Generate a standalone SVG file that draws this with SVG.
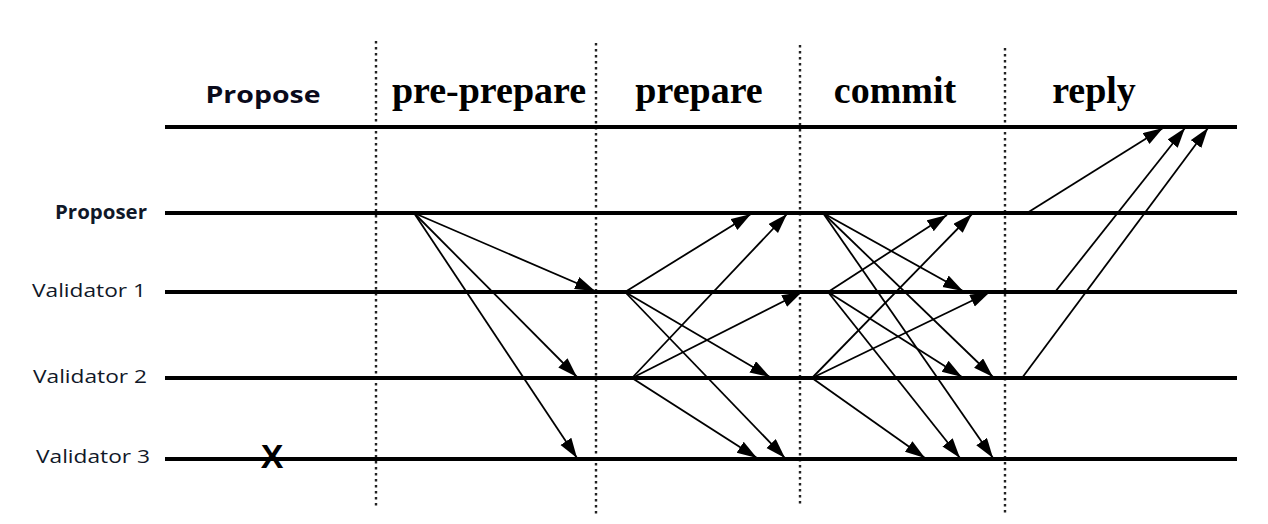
<svg xmlns="http://www.w3.org/2000/svg" width="1268" height="524" viewBox="0 0 1268 524">
<style>
.lane{stroke:#000;stroke-width:4;fill:none}
.div{stroke:#222;stroke-width:2.4;stroke-dasharray:2.4 3.6;fill:none}
.msg{stroke:#000;stroke-width:1.8;fill:none;marker-end:url(#ah)}
.hdr{font-family:"Liberation Serif",serif;font-weight:bold;font-size:38px;fill:#000;text-anchor:middle}
.prop{font-family:"Open Sans","Liberation Sans",sans-serif;font-weight:bold;font-size:23px;fill:#0a0a1a;text-anchor:middle}
.lbl{font-family:"Open Sans","Liberation Sans",sans-serif;font-size:19px;fill:#101828;text-anchor:end}
</style>
<defs>
<marker id="ah" markerUnits="userSpaceOnUse" markerWidth="22" markerHeight="14" refX="20" refY="6.5" orient="auto">
<path d="M0,0 L20,6.5 L0,13 Z" fill="#000"/>
</marker>
</defs>
<rect width="1268" height="524" fill="#fff"/>
<g id="dividers">
<line class="div" x1="376" y1="41" x2="376" y2="507"/>
<line class="div" x1="596" y1="43" x2="596" y2="515"/>
<line class="div" x1="800" y1="45" x2="800" y2="507"/>
<line class="div" x1="1005" y1="48" x2="1005" y2="515"/>
</g>
<g id="headers">
<text class="prop" x="263" y="103" textLength="115" lengthAdjust="spacingAndGlyphs">Propose</text>
<text class="hdr" x="489" y="103">pre-prepare</text>
<text class="hdr" x="699" y="103">prepare</text>
<text class="hdr" x="895" y="103">commit</text>
<text class="hdr" x="1094" y="103">reply</text>
</g>
<g id="client">
<line class="lane" x1="165" y1="127" x2="1237" y2="127"/>
</g>
<g id="proposer">
<text class="lbl" x="147" y="219" font-weight="bold" font-size="17" textLength="92" lengthAdjust="spacingAndGlyphs">Proposer</text>
<line class="lane" x1="165" y1="213" x2="1237" y2="213"/>
</g>
<g id="validator1">
<text class="lbl" x="146" y="297" textLength="114" lengthAdjust="spacingAndGlyphs">Validator 1</text>
<line class="lane" x1="165" y1="292" x2="1237" y2="292"/>
</g>
<g id="validator2">
<text class="lbl" x="147" y="383" textLength="114" lengthAdjust="spacingAndGlyphs">Validator 2</text>
<line class="lane" x1="165" y1="378" x2="1237" y2="378"/>
</g>
<g id="validator3">
<text class="lbl" x="150" y="463" textLength="114" lengthAdjust="spacingAndGlyphs">Validator 3</text>
<line class="lane" x1="165" y1="459" x2="1237" y2="459"/>
<text x="272" y="468" font-family="'Liberation Sans',sans-serif" font-weight="bold" font-size="34" text-anchor="middle" fill="#000">X</text>
</g>
<g id="connectors">
<!-- pre-prepare -->
<line class="msg" x1="414" y1="213" x2="595" y2="291"/>
<line class="msg" x1="414" y1="213" x2="577" y2="377"/>
<line class="msg" x1="414" y1="213" x2="577" y2="458"/>
<!-- prepare -->
<line class="msg" x1="625" y1="292" x2="751" y2="214"/>
<line class="msg" x1="625" y1="292" x2="770" y2="377"/>
<line class="msg" x1="625" y1="292" x2="785" y2="458"/>
<line class="msg" x1="632" y1="378" x2="787" y2="214"/>
<line class="msg" x1="632" y1="378" x2="802" y2="292"/>
<line class="msg" x1="632" y1="378" x2="757" y2="458"/>
<!-- commit -->
<line class="msg" x1="823" y1="213" x2="963" y2="291"/>
<line class="msg" x1="823" y1="213" x2="993" y2="377"/>
<line class="msg" x1="823" y1="213" x2="993" y2="458"/>
<line class="msg" x1="828" y1="292" x2="947" y2="215"/>
<line class="msg" x1="828" y1="292" x2="962" y2="377"/>
<line class="msg" x1="828" y1="292" x2="960" y2="458"/>
<line class="msg" x1="812" y1="378" x2="972" y2="214"/>
<line class="msg" x1="812" y1="378" x2="990" y2="292"/>
<line class="msg" x1="812" y1="378" x2="925" y2="458"/>
<!-- reply -->
<line class="msg" x1="1027" y1="213" x2="1163" y2="128"/>
<line class="msg" x1="1055" y1="292" x2="1185" y2="128"/>
<line class="msg" x1="1022" y1="378" x2="1208" y2="128"/>
</g>
</svg>
